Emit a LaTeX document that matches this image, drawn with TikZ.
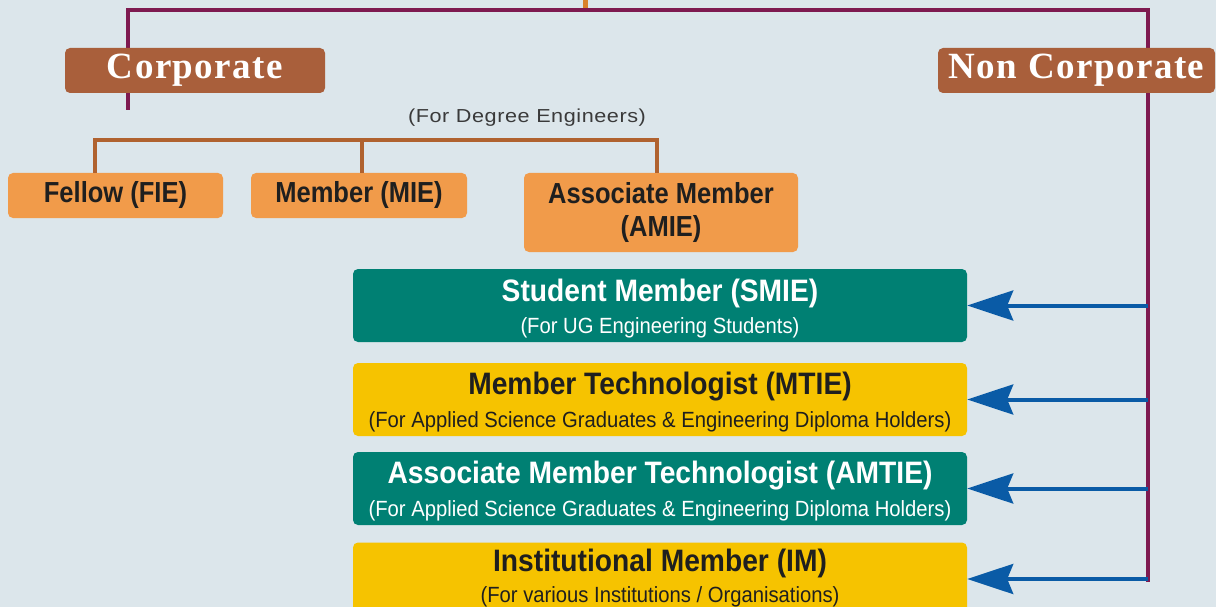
\documentclass[tikz,border=0pt]{standalone}
\usepackage{fontspec}
\setmainfont{Liberation Sans}
\newfontfamily\titlefont{Liberation Sans}[FakeStretch=0.91]
\newfontfamily\boxfont{Liberation Sans}[FakeStretch=0.88]
\newfontfamily\subfont{Liberation Sans}[FakeStretch=0.92]
\newfontfamily\notefont{Liberation Sans}[FakeStretch=1.15,LetterSpace=3]
\newfontfamily\headfont{Liberation Serif}[LetterSpace=4]

\definecolor{bgblue}{HTML}{DCE6EB}
\definecolor{trunkpurple}{HTML}{7E1A50}
\definecolor{headbrown}{HTML}{A95F3B}
\definecolor{linebrown}{HTML}{B0622F}
\definecolor{stuborange}{HTML}{D9822B}
\definecolor{corporange}{HTML}{F19B4A}
\definecolor{gradeteal}{HTML}{008073}
\definecolor{gradeyellow}{HTML}{F6C300}
\definecolor{feedblue}{HTML}{0A5BA6}
\definecolor{inkdark}{HTML}{1F1F1F}
\definecolor{inkgray}{HTML}{3A3A3A}

\usetikzlibrary{arrows.meta}

\tikzset{
  headbox/.style={fill=headbrown, rounded corners=5pt, inner sep=0pt,
                  minimum height=45pt, text=white,
                  font=\headfont\bfseries\fontsize{37}{40}\selectfont},
  corpbox/.style={fill=corporange, rounded corners=5pt, inner sep=0pt,
                  text=inkdark, align=center,
                  font=\boxfont\bfseries\fontsize{29}{32}\selectfont},
  gradebox/.style={rounded corners=5pt, inner sep=0pt, align=center,
                  minimum width=614pt, minimum height=73pt},
  trunk/.style={draw=trunkpurple, line width=4.5pt},
  bracket/.style={draw=linebrown, line width=4pt},
  feed/.style={draw=feedblue, line width=4pt,
               -{Stealth[length=46pt, width=30pt, inset=6pt]}},
}

\newcommand{\gradetitle}{\titlefont\bfseries\fontsize{31}{32}\selectfont\rule{0pt}{28pt}}
\newcommand{\gradenote}{\subfont\fontsize{22}{32}\selectfont}

\begin{document}
\begin{tikzpicture}[x=1pt, y=-1pt]
  \fill[bgblue] (0,0) rectangle (1216,607);
  \useasboundingbox (0,0) rectangle (1216,607);

  % junction points of the lines
  \coordinate (stub) at (585,0);
  \coordinate (stubend) at (585,10);
  \coordinate (lj) at (128,10);
  \coordinate (rj) at (1148,10);
  \coordinate (ltail) at (128,110);
  \coordinate (rtail) at (1148,582);
  \coordinate (bl) at (95,140);
  \coordinate (bm) at (362,140);
  \coordinate (br) at (657,140);

  \draw[draw=stuborange, line width=5pt] (stub) -- (stubend);
  \draw[trunk] (ltail) -- (lj) -- (rj) -- (rtail);

  \node[headbox, minimum width=260pt] (corp) at (195,70.5) {Corporate};
  \node[headbox, minimum width=277pt] (noncorp) at (1076.5,70.5) {Non Corporate};

  \node[text=inkgray, font=\notefont\fontsize{18.8}{22}\selectfont]
    (degree) at (527,118) {(For Degree Engineers)};

  \node[corpbox, minimum width=215pt, minimum height=45pt] (fie) at (115.5,195.5) {Fellow (FIE)};
  \node[corpbox, minimum width=216pt, minimum height=45pt] (mie) at (359,195.5) {Member (MIE)};
  \node[corpbox, minimum width=274pt, minimum height=79pt] (amie) at (661,212.5)
    {Associate Member\\[1pt](AMIE)};

  \draw[bracket] (fie.north -| bl) -- (bl) -- (br) -- (amie.north -| br);
  \draw[bracket] (bm) -- (mie.north -| bm);

  \node[gradebox, fill=gradeteal, text=white] (smie) at (660,305.5)
    {{\gradetitle Student Member (SMIE)}\\[9pt]{\gradenote (For UG Engineering Students)}};
  \node[gradebox, fill=gradeyellow, text=inkdark] (mtie) at (660,399.5)
    {{\gradetitle Member Technologist (MTIE)}\\[9pt]{\gradenote (For Applied Science Graduates \& Engineering Diploma Holders)}};
  \node[gradebox, fill=gradeteal, text=white] (amtie) at (660,488.5)
    {{\gradetitle Associate Member Technologist (AMTIE)}\\[9pt]{\gradenote (For Applied Science Graduates \& Engineering Diploma Holders)}};
  \node[gradebox, fill=gradeyellow, text=inkdark] (im) at (660,579)
    {{\gradetitle Institutional Member (IM)}\\[8pt]{\gradenote (For various Institutions / Organisations)\rule[-12pt]{0pt}{0pt}}};

  \foreach \b in {smie, mtie, amtie, im} {
    \draw[feed] (\b.east -| rj) -- (\b.east);
  }
\end{tikzpicture}
\end{document}
